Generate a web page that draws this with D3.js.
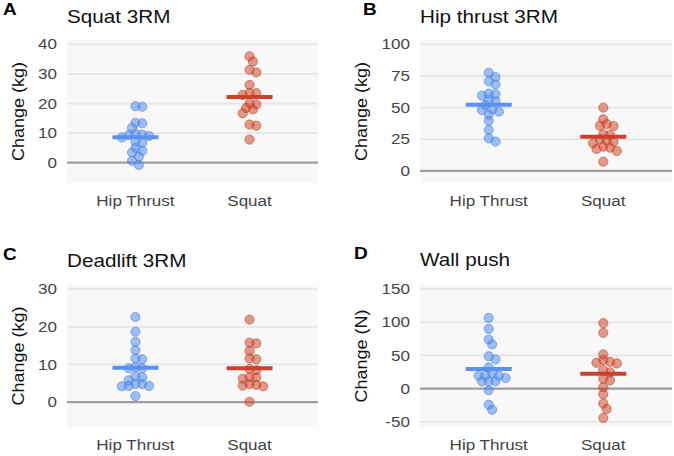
<!DOCTYPE html>
<html><head><meta charset="utf-8">
<script src="https://cdn.jsdelivr.net/npm/d3@7"></script>
<style>html,body{margin:0;padding:0;background:#fff;}svg{display:block;}</style>
</head><body>
<svg id="chart" width="674" height="456"></svg>
<script>
// ---------- data ----------
const categories = ["Hip Thrust", "Squat"];
const panelLetters = ["A", "B", "C", "D"];
const panelTitles = ["Squat 3RM", "Hip thrust 3RM", "Deadlift 3RM", "Wall push"];
const yTitles = ["Change (kg)", "Change (kg)", "Change (kg)", "Change (N)"];
const yTicks = [[0, 10, 20, 30, 40], [0, 25, 50, 75, 100], [0, 10, 20, 30], [-50, 0, 50, 100, 150]];
const yDomains = [[-6.9, 41.5], [-9.5, 103.4], [-6.6, 31.1], [-57.6, 156]];

const squat3rmHipThrust = [19.1, 18.9, 13.5, 13.3, 11.8, 9.8, 9.5, 9.3, 9.0, 8.5, 7.1, 6.7, 5.0, 4.0, 3.4, 2.0, 0.6, -0.8];
const squat3rmSquat = [36.0, 34.2, 31.4, 30.5, 26.3, 23.5, 23.5, 22.9, 20.1, 19.7, 18.5, 18.0, 16.7, 12.5, 12.9, 7.8];
const hipThrust3rmHipThrust = [77.6, 74.2, 70.8, 68.2, 61.0, 60.5, 59.5, 56.3, 55.0, 52.0, 48.7, 48.1, 46.8, 44.5, 39.5, 32.4, 25.8, 23.2];
const hipThrust3rmSquat = [50.0, 40.8, 37.1, 35.7, 35.5, 29.0, 28.4, 25.0, 23.9, 23.1, 21.9, 19.2, 18.4, 17.4, 15.8, 7.3];
const deadlift3rmHipThrust = [22.6, 18.7, 16.0, 13.8, 11.6, 11.4, 9.3, 9.0, 9.0, 6.9, 6.6, 5.8, 4.8, 4.8, 4.3, 4.3, 4.2, 1.6];
const deadlift3rmSquat = [21.9, 15.8, 15.6, 13.6, 11.6, 11.4, 8.8, 8.5, 6.6, 6.6, 6.2, 4.8, 4.6, 4.4, 4.2, 0.1];
const wallPushHipThrust = [106.5, 90.0, 74.0, 66.5, 49.0, 44.0, 32.0, 23.6, 20.0, 19.6, 19.6, 16.1, 11.1, 11.1, 11.0, -2.4, -24.0, -31.6];
const wallPushSquat = [98.6, 84.0, 51.5, 43.0, 40.4, 39.0, 38.0, 28.0, 24.4, 15.0, 12.5, 2.1, -8.2, -22.3, -30.5, -44.0];
const means = [[8.6, 22.2], [52.2, 27.0], [9.1, 9.0], [29.6, 22.6]];

const panelSeries = [
  [squat3rmHipThrust, squat3rmSquat],
  [hipThrust3rmHipThrust, hipThrust3rmSquat],
  [deadlift3rmHipThrust, deadlift3rmSquat],
  [wallPushHipThrust, wallPushSquat]
];

// ---------- layout & style ----------
const panels = [
  {left: 67, right: 318, top: 40, bottom: 183, letterX: 3, letterY: 15, titleY: 22.5, yTitleX: 24, xLabY: 206},
  {left: 420, right: 672, top: 40, bottom: 183, letterX: 363, letterY: 15, titleY: 23, yTitleX: 367, xLabY: 206},
  {left: 67, right: 318, top: 285, bottom: 427, letterX: 3, letterY: 259.5, titleY: 267, yTitleX: 24, xLabY: 449.5},
  {left: 420, right: 672, top: 285, bottom: 427, letterX: 354, letterY: 258.5, titleY: 265.5, yTitleX: 367, xLabY: 449.5}
];
const fillCol = ["#4a86e8", "#cc4125"];
const lineCol = ["#5a90ee", "#cc4030"];
const FONT = "'Liberation Sans', Arial, sans-serif";

const svg = d3.select("#chart");

function txt(g, x, y, s, o) {
  const t = g.append("text")
    .attr("transform", `translate(${x},${y})` + (o.rot ? ` rotate(${o.rot})` : "") + ` scale(${o.sx || 1},1)`)
    .attr("font-family", FONT)
    .attr("font-size", o.size)
    .attr("font-weight", o.weight || "normal")
    .attr("fill", o.fill || "#000")
    .attr("text-anchor", o.anchor || "start")
    .text(s);
  if (o.dy) t.attr("dy", o.dy);
  return t;
}

// simple deterministic beeswarm (pixel offsets)
function swarm(ys, minDist, step) {
  const idx = ys.map((y, i) => i).sort((a, b) => ys[a] - ys[b]);
  const placed = [];
  const offs = new Array(ys.length).fill(0);
  for (const i of idx) {
    let k = 0, ok = false, off = 0;
    while (!ok && k < 40) {
      off = (k === 0) ? 0 : (k % 2 ? 1 : -1) * Math.ceil(k / 2) * step;
      ok = placed.every(p => Math.hypot(p.x - off, p.y - ys[i]) >= minDist);
      k++;
    }
    offs[i] = off;
    placed.push({x: off, y: ys[i]});
  }
  return offs;
}

panels.forEach((p, pi) => {
  const g = svg.append("g");
  const y = d3.scaleLinear().domain(yDomains[pi]).range([p.bottom, p.top]);
  const x = d3.scalePoint().domain(categories).range([p.left, p.right]).padding(0.6);

  g.append("rect").attr("x", p.left).attr("y", p.top)
    .attr("width", p.right - p.left).attr("height", p.bottom - p.top)
    .attr("fill", "#f8f8f8");

  g.selectAll(".grid").data(yTicks[pi]).enter().append("line")
    .attr("x1", p.left).attr("x2", p.right)
    .attr("y1", d => y(d)).attr("y2", d => y(d))
    .attr("stroke", d => d === 0 ? "#9e9e9e" : "#e6e6e6")
    .attr("stroke-width", d => d === 0 ? 2.2 : 1.8);

  yTicks[pi].forEach(t => txt(g, p.left - 10, y(t), String(t),
    {size: 14, fill: "#444", anchor: "end", sx: 1.22, dy: "0.36em"}));

  categories.forEach(c => txt(g, x(c), p.xLabY, c, {size: 15.5, fill: "#444", anchor: "middle", sx: 1.1}));

  txt(g, p.letterX, p.letterY, panelLetters[pi], {size: 16.5, weight: "bold", sx: 1.15});
  txt(g, p.left, p.titleY, panelTitles[pi], {size: 18, fill: "#111", sx: 1.15});
  txt(g, p.yTitleX, (p.top + p.bottom) / 2, yTitles[pi], {size: 17, fill: "#111", anchor: "middle", rot: -90, sx: 1.06});

  panelSeries[pi].forEach((vals, ci) => {
    const ys = vals.map(v => y(v));
    const offs = swarm(ys, 5.6, 3.4);
    g.append("g").selectAll("circle").data(vals).enter().append("circle")
      .attr("cx", (d, i) => x(categories[ci]) + offs[i])
      .attr("cy", d => y(d))
      .attr("r", 4.6)
      .attr("fill", fillCol[ci]).attr("fill-opacity", 0.52)
      .attr("stroke", fillCol[ci]).attr("stroke-opacity", 0.6).attr("stroke-width", 1);
  });

  means[pi].forEach((m, ci) => {
    g.append("line")
      .attr("x1", x(categories[ci]) - 23).attr("x2", x(categories[ci]) + 23)
      .attr("y1", y(m)).attr("y2", y(m))
      .attr("stroke", lineCol[ci]).attr("stroke-width", 4);
  });
});
</script>
</body></html>
